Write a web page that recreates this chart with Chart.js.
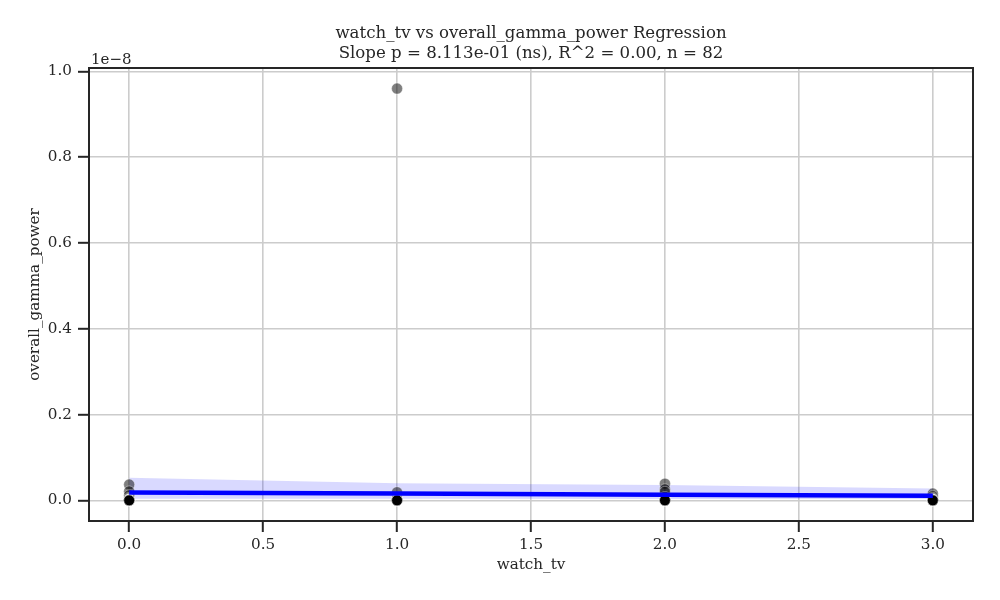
<!DOCTYPE html>
<html lang="en">
<head>
    <title>watch_tv vs overall_gamma_power</title>
    <meta charset="UTF-8">
    <style>
        body {
            margin: 0;
            background: #ffffff;
        }
        #plot-container {
            width: 1000px;
            height: 600px;
        }
    </style>
</head>
<body>
<div id="plot-container">
    <canvas id="reg-plot"></canvas>
</div>
<script src="https://cdn.jsdelivr.net/npm/chart.js"></script>
<script>
    // values of overall_gamma_power are given in units of 1e-8
    const watchTv = [
        0, 0, 0, 0, 0, 0, 0, 0, 0, 0, 0, 0, 0, 0, 0, 0, 0, 0, 0, 0, 0, 0,
        1, 1, 1, 1, 1, 1, 1, 1, 1, 1, 1, 1, 1, 1, 1, 1, 1, 1, 1, 1,
        2, 2, 2, 2, 2, 2, 2, 2, 2, 2, 2, 2, 2, 2, 2, 2, 2, 2, 2, 2, 2, 2,
        3, 3, 3, 3, 3, 3, 3, 3, 3, 3, 3, 3, 3, 3, 3, 3, 3, 3
    ];
    const gammaPower = [
        0.037, 0.021, 0.012, 0.006, 0.004, 0.003, 0.002, 0.002, 0.001, 0.001, 0.001, 0.001, 0.0005, 0.0005, 0.0004, 0.0003, 0.0003, 0.0002, 0.0002, 0.0001, 0.0001, 0.0001,
        0.960, 0.019, 0.004, 0.002, 0.002, 0.001, 0.001, 0.001, 0.0008, 0.0005, 0.0005, 0.0004, 0.0003, 0.0003, 0.0002, 0.0002, 0.0001, 0.0001, 0.0001, 0.0001,
        0.039, 0.026, 0.020, 0.008, 0.004, 0.003, 0.002, 0.002, 0.001, 0.001, 0.001, 0.0008, 0.0005, 0.0005, 0.0004, 0.0003, 0.0003, 0.0002, 0.0002, 0.0001, 0.0001, 0.0001,
        0.016, 0.010, 0.006, 0.004, 0.003, 0.002, 0.002, 0.001, 0.001, 0.001, 0.0005, 0.0004, 0.0003, 0.0002, 0.0002, 0.0001, 0.0001, 0.0001
    ];

    // regression line and confidence band
    const fitX = [0, 1, 2, 3];
    const fitY = [0.0187, 0.0160, 0.0133, 0.0106];
    const bandUpper = [0.053, 0.040, 0.036, 0.028];
    const bandLower = [0.004, 0.004, 0.003, 0.003];

    const xTicks = [0.0, 0.5, 1.0, 1.5, 2.0, 2.5, 3.0];
    const yTicks = [0.0, 0.2, 0.4, 0.6, 0.8, 1.0];

    const titleLines = [
        'watch_tv vs overall_gamma_power Regression',
        'Slope p = 8.113e-01 (ns), R^2 = 0.00, n = 82'
    ];
    const xLabel = 'watch_tv';
    const yLabel = 'overall_gamma_power';
    const yOffsetText = '1e\u22128';

    const FONT = "'DejaVu Serif', serif";
    const DARK = '#262626';

    const points = watchTv.map((x, i) => ({ x: x, y: gammaPower[i] }));
    const fitLine = fitX.map((x, i) => ({ x: x, y: fitY[i] }));
    const upper = fitX.map((x, i) => ({ x: x, y: bandUpper[i] }));
    const lower = fitX.map((x, i) => ({ x: x, y: bandLower[i] }));

    const decorations = {
        id: 'decorations',
        afterDraw(chart) {
            const c = chart.ctx;
            const a = chart.chartArea;
            c.save();
            // frame on all four sides
            c.strokeStyle = DARK;
            c.lineWidth = 2;
            c.strokeRect(a.left, a.top, a.right - a.left, a.bottom - a.top);

            c.fillStyle = DARK;
            c.textAlign = 'center';
            c.textBaseline = 'middle';
            c.font = '16.6px ' + FONT;
            const cx = (a.left + a.right) / 2;
            c.fillText(titleLines[0], cx, 34);
            c.fillText(titleLines[1], cx, 54);

            c.font = '15.2px ' + FONT;
            c.fillText(xLabel, cx, 565);

            c.save();
            c.translate(35, (a.top + a.bottom) / 2);
            c.rotate(-Math.PI / 2);
            c.fillText(yLabel, 0, 0);
            c.restore();

            c.textAlign = 'left';
            c.textBaseline = 'alphabetic';
            c.font = '15px ' + FONT;
            c.fillText(yOffsetText, a.left + 2, 64);
            c.restore();
        }
    };

    const ctx = document.getElementById('reg-plot').getContext('2d');

    new Chart(ctx, {
        type: 'scatter',
        data: {
            datasets: [
                {
                    label: 'band lower',
                    type: 'line',
                    data: lower,
                    borderWidth: 0,
                    pointRadius: 0,
                    fill: false,
                    order: 3
                },
                {
                    label: 'band upper',
                    type: 'line',
                    data: upper,
                    borderWidth: 0,
                    pointRadius: 0,
                    backgroundColor: 'rgba(0, 0, 255, 0.15)',
                    fill: '-1',
                    order: 3
                },
                {
                    label: 'points',
                    data: points,
                    pointRadius: 5.5,
                    pointBackgroundColor: 'rgba(0, 0, 0, 0.5)',
                    pointBorderColor: 'rgba(255, 255, 255, 0.6)',
                    pointBorderWidth: 0.6,
                    order: 2
                },
                {
                    label: 'fit',
                    type: 'line',
                    data: fitLine,
                    borderColor: 'rgb(0, 0, 255)',
                    borderWidth: 4.5,
                    pointRadius: 0,
                    fill: false,
                    order: 1
                }
            ]
        },
        options: {
            responsive: true,
            maintainAspectRatio: false,
            animation: false,
            layout: {
                padding: { left: 0, top: 68, right: 27, bottom: 0 }
            },
            plugins: {
                legend: { display: false },
                tooltip: { enabled: false }
            },
            scales: {
                x: {
                    type: 'linear',
                    min: -0.15,
                    max: 3.15,
                    afterFit: scale => { scale.height = 79; },
                    afterBuildTicks: scale => { scale.ticks = xTicks.map(v => ({ value: v })); },
                    grid: {
                        color: '#cccccc',
                        lineWidth: 1.6,
                        tickColor: DARK,
                        tickLength: 11,
                        tickWidth: 2
                    },
                    border: { color: DARK, width: 2 },
                    ticks: {
                        color: DARK,
                        padding: 4,
                        maxRotation: 0,
                        font: { family: FONT, size: 15.2 },
                        callback: v => v.toFixed(1)
                    }
                },
                y: {
                    type: 'linear',
                    min: -0.048,
                    max: 1.008,
                    afterFit: scale => { scale.width = 89; },
                    afterBuildTicks: scale => { scale.ticks = yTicks.map(v => ({ value: v })); },
                    grid: {
                        color: '#cccccc',
                        lineWidth: 1.6,
                        tickColor: DARK,
                        tickLength: 11,
                        tickWidth: 2
                    },
                    border: { color: DARK, width: 2 },
                    ticks: {
                        color: DARK,
                        padding: 6,
                        font: { family: FONT, size: 15.2 },
                        callback: v => v.toFixed(1)
                    }
                }
            }
        },
        plugins: [decorations]
    });
</script>
</body>
</html>
